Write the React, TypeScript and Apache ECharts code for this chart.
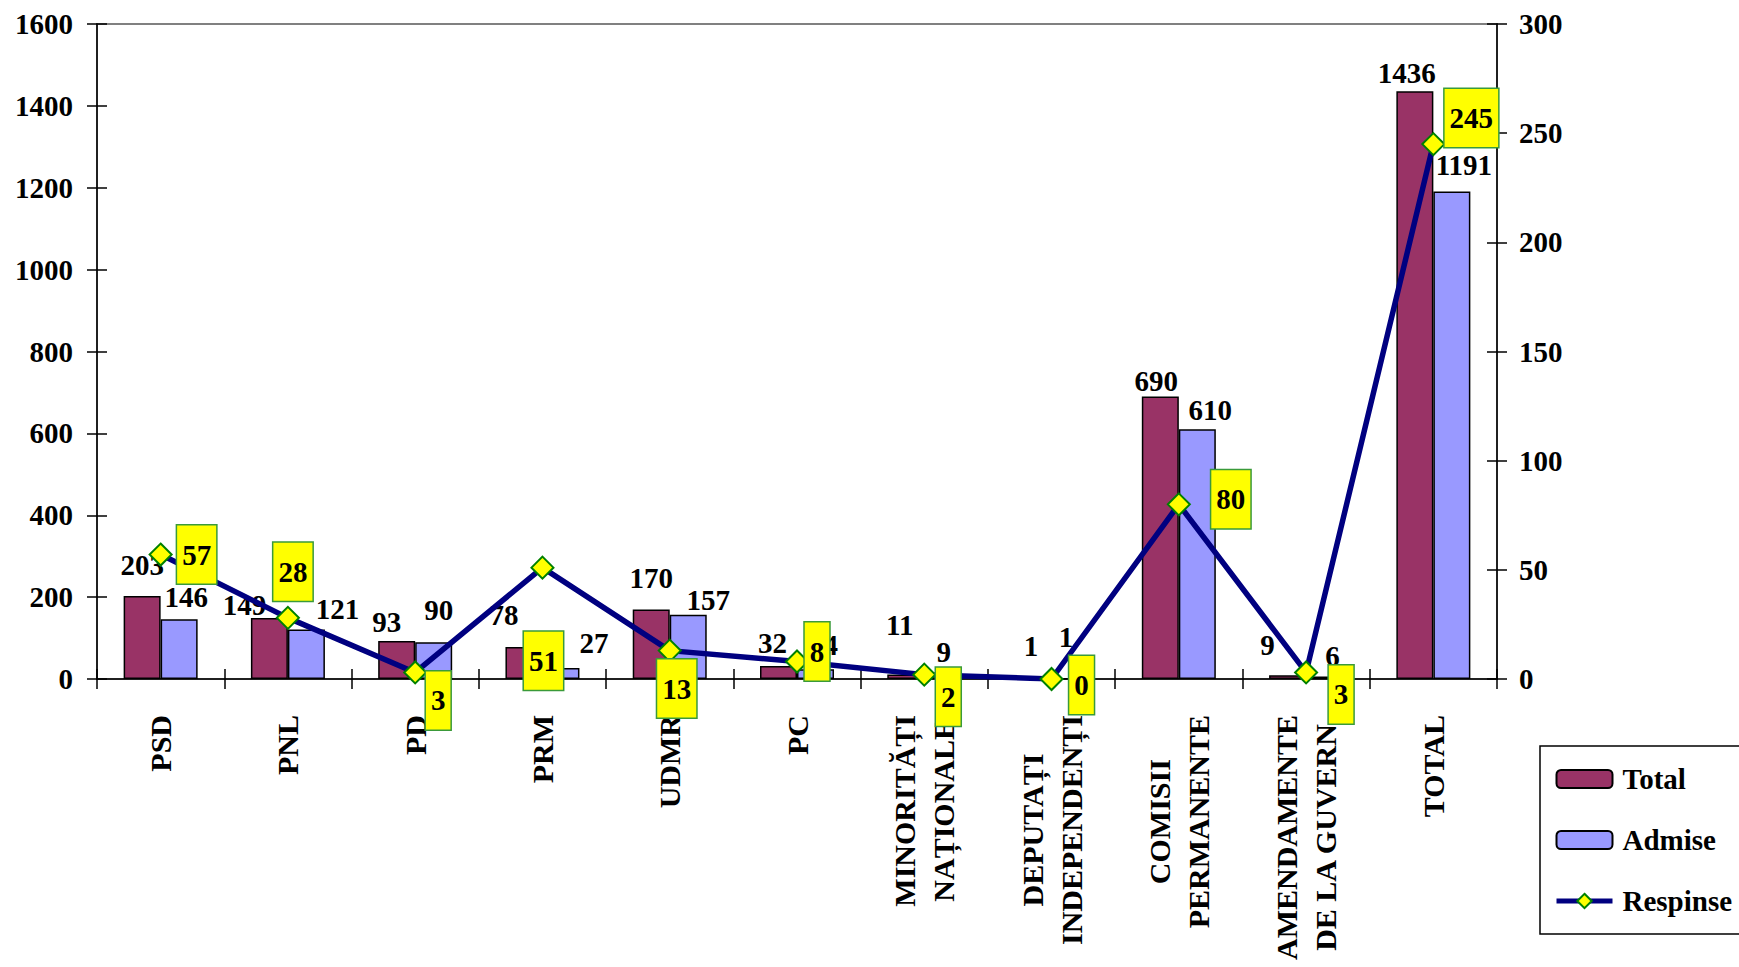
import React, { useEffect, useRef } from "react";
import * as echarts from "echarts";

const categories = [
  "PSD",
  "PNL",
  "PD",
  "PRM",
  "UDMR",
  "PC",
  "MINORITĂȚI\nNAȚIONALE",
  "DEPUTAȚI\nINDEPENDENȚI",
  "COMISII\nPERMANENTE",
  "AMENDAMENTE\nDE LA GUVERN",
  "TOTAL",
];
const totalValues = [203, 149, 93, 78, 170, 32, 11, 1, 690, 9, 1436];
const admiseValues = [146, 121, 90, 27, 157, 24, 9, 1, 610, 6, 1191];
const respinseValues = [57, 28, 3, 51, 13, 8, 2, 0, 80, 3, 245];

const leftAxis = { min: 0, max: 1600, interval: 200 };
const rightAxis = { min: 0, max: 300, interval: 50 };

// layout: label nudges (px) to mimic the original label placement
const totalLabelOffsets = [
  [0, -16], [-25, 2], [-10, -4], [-20, -17], [0, -16], [-6, -8],
  [-6, -34], [-2, -17], [-4, -1], [-20, -15], [-8, -3],
];
const admiseLabelOffsets = [
  [7, -7], [31, -5], [5, -17], [33, -10], [20, 0], [8, -9],
  [1, -8], [-4, -26], [13, -4], [8, -6], [12, -11],
];
const respinseLabelOffsets = [
  [36, 0], [5, -46], [23, 28], [1, 93], [7, 38], [20, -10],
  [24, 22], [30, 6], [52, -5], [35, 22], [38, -26],
];

const FONT = "'Liberation Serif', 'Times New Roman', serif";

export default function App() {
  const ref = useRef<HTMLDivElement>(null);

  useEffect(() => {
    if (!ref.current) return;
    const chart = echarts.init(ref.current, null, { renderer: "svg" });
    const txt = {
      fontFamily: FONT,
      fontWeight: "bold" as const,
      fontSize: 29,
      color: "#000",
    };

    const yCommon = (pos: "left" | "right", cfg: any, show: boolean, inside: boolean) => ({
      type: "value",
      position: pos,
      min: cfg.min,
      max: cfg.max,
      interval: cfg.interval,
      splitLine: { show: false },
      axisLine: { show: show, lineStyle: { color: "#000", width: 1.5 } },
      axisTick: { show: true, inside, length: 10, lineStyle: { color: "#000", width: 1.5 } },
      axisLabel: {
        show: show,
        ...txt,
        margin: pos === "left" ? 24 : 22,
        formatter: (v: number) => String(v),
      },
    });

    chart.setOption({
      animation: false,
      backgroundColor: "#fff",
      grid: {
        left: 97,
        right: 242,
        top: 24,
        bottom: 288,
        show: true,
        borderColor: "#808080",
        borderWidth: 2,
        backgroundColor: "transparent",
      },
      legend: {
        orient: "vertical",
        left: 1540,
        top: 746,
        padding: [18, 30, 18, 14],
        itemWidth: 56,
        itemHeight: 18,
        itemGap: 31,
        borderColor: "#000",
        borderWidth: 1.5,
        lineStyle: { width: 5 },
        textStyle: { ...txt, lineHeight: 30, padding: [0, 0, 0, 5] },
        data: ["Total", "Admise", "Respinse"],
      },
      xAxis: [
        {
          type: "category",
          position: "bottom",
          data: categories,
          axisLine: { show: true, lineStyle: { color: "#000", width: 1.5 } },
          axisTick: { show: true, length: 10, lineStyle: { color: "#000", width: 1.5 } },
          axisLabel: {
            interval: 0,
            rotate: 90,
            margin: 36,
            formatter: (v: string) =>
              v
                .split("\n")
                .map((l) => `{c|${l}}`)
                .join("\n"),
            rich: {
              c: {
                align: "center",
                fontFamily: FONT,
                fontWeight: "bold",
                fontSize: 30,
                lineHeight: 39,
                color: "#000",
              },
            },
          },
        },
        {
          type: "category",
          position: "bottom",
          data: categories,
          axisLine: { show: false },
          axisTick: { show: true, inside: true, length: 10, lineStyle: { color: "#000", width: 1.5 } },
          axisLabel: { show: false },
        },
      ],
      yAxis: [
        yCommon("left", leftAxis, true, false),
        yCommon("right", rightAxis, true, false),
        yCommon("left", leftAxis, false, true),
        yCommon("right", rightAxis, false, true),
      ],
      series: [
        {
          name: "Total",
          type: "bar",
          xAxisIndex: 0,
          yAxisIndex: 0,
          barWidth: 37,
          barGap: "0%",
          itemStyle: { color: "#993366", borderColor: "#000", borderWidth: 1.5 },
          label: { show: true, position: "top", distance: 0, ...txt, lineHeight: 30 },
          data: totalValues.map((v, i) => ({
            value: v,
            label: { offset: totalLabelOffsets[i] },
          })),
          z: 2,
        },
        {
          name: "Admise",
          type: "bar",
          xAxisIndex: 0,
          yAxisIndex: 0,
          barWidth: 37,
          barGap: "0%",
          itemStyle: { color: "#9999FF", borderColor: "#000", borderWidth: 1.5 },
          label: { show: true, position: "top", distance: 0, ...txt, lineHeight: 30 },
          data: admiseValues.map((v, i) => ({
            value: v,
            label: { offset: admiseLabelOffsets[i] },
          })),
          z: 2,
        },
        {
          name: "Respinse",
          type: "line",
          xAxisIndex: 0,
          yAxisIndex: 1,
          symbol: "diamond",
          symbolSize: 22,
          lineStyle: { color: "#000080", width: 5.5 },
          itemStyle: { color: "#FFFF00", borderColor: "#008000", borderWidth: 2 },
          label: {
            show: true,
            position: "inside",
            ...txt,
            lineHeight: 30,
            backgroundColor: "#FFFF00",
            borderColor: "#3A9A3A",
            borderWidth: 1.5,
            padding: [14, 5, 14, 5],
          },
          data: respinseValues.map((v, i) => ({
            value: v,
            label: { offset: respinseLabelOffsets[i] },
          })),
          z: 5,
        },
      ],
    });

    return () => chart.dispose();
  }, []);

  return (
    <div
      ref={ref}
      style={{ position: "fixed", left: 0, top: 0, width: 1739, height: 967, background: "#fff" }}
    />
  );
}
